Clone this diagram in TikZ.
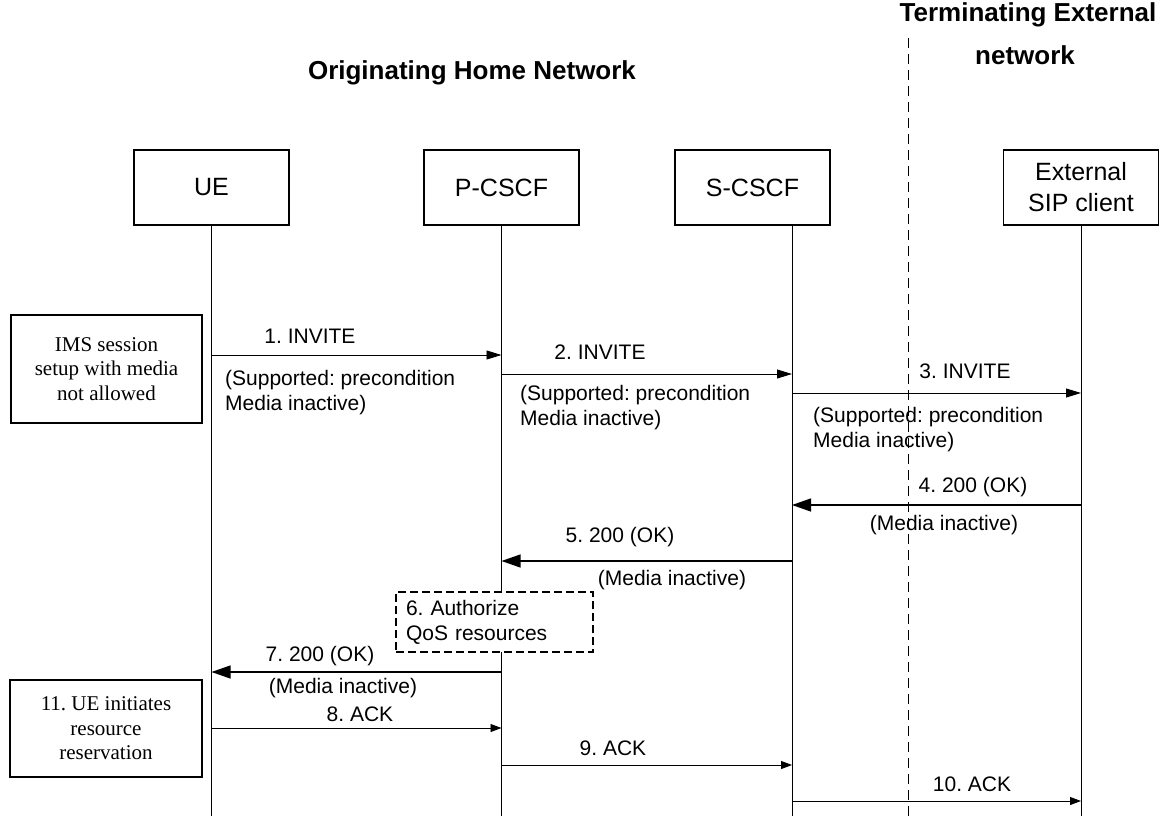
\documentclass[tikz,border=0pt]{standalone}
\usepackage{fontspec}
\setmainfont{Liberation Sans}
\newfontfamily\timesf{Liberation Serif}
\usetikzlibrary{arrows.meta}
\frenchspacing
\begin{document}
\frenchspacing
\begin{tikzpicture}[x=1pt,y=-1pt,
  actor/.style={draw,line width=1.1pt,minimum width=155pt,minimum height=75pt,inner sep=0pt,align=center,font=\frenchspacing\fontsize{25}{31}\selectfont},
  note/.style={draw,line width=1.1pt,inner sep=0pt,align=center,font=\frenchspacing\timesf\fontsize{21}{24.5}\selectfont},
  lbl/.style={inner sep=0pt,font=\frenchspacing\fontsize{21}{25}\selectfont},
  lbll/.style={inner sep=0pt,align=left,anchor=west,font=\frenchspacing\fontsize{21}{25}\selectfont},
  ttl/.style={inner sep=0pt,font=\bfseries\fontsize{26}{32}\selectfont},
  life/.style={line width=1pt},
  inv/.style={line width=0.9pt,-{Triangle[length=15pt,width=9pt]}},
  ok/.style={line width=1.3pt,-{Triangle[length=19pt,width=13pt]}},
  ack/.style={line width=0.9pt,-{Triangle[length=11pt,width=8pt]}},
  divider/.style={line width=1pt,dash pattern=on 10pt off 6pt},
  proc/.style={draw,fill=white,line width=1.3pt,dash pattern=on 8pt off 4pt,text width=177pt,inner xsep=10pt,inner ysep=0pt,minimum height=60pt,align=left,font=\frenchspacing\fontsize{21}{25}\selectfont}
]
\useasboundingbox (0,0) rectangle (1173,816);

% titles
\node[ttl] (orig) at (472,73) {Originating Home Network};
\node[ttl] (term1) at (1028,15) {Terminating External};
\node[ttl] (term2) at (1025,55) {network};

% divider
\coordinate (divTop) at (908,38);
\coordinate (divBot) at (908,816);
\draw[divider] (divTop) -- (divBot);

% actors
\node[actor] (ue) at (211.5,187.5) {UE};
\node[actor] (pcscf) at (501.5,187.5) {P-CSCF};
\node[actor] (scscf) at (752.5,187.5) {S-CSCF};
\node[actor] (ext) at (1081,187.5) {External\\SIP client};
\coordinate (sL) at (792,225);

% lifelines
\draw[life] (ue.south) -- (ue.south |- 0,816);
\draw[life] (pcscf.south) -- (pcscf.south |- 0,816);
\draw[life] (sL) -- (sL |- 0,816);
\draw[life] (ext.south) -- (ext.south |- 0,816);

% side notes
\node[note,minimum width=191pt,minimum height=108pt] (ims) at (106.5,369) {IMS session\\setup with media\\not allowed};
\node[note,minimum width=192pt,minimum height=97pt] (res) at (106,728.5) {11. UE initiates\\resource\\reservation};

% 1. INVITE
\draw[inv] (ue.south |- 0,355) -- (pcscf.south |- 0,355);
\node[lbl] (l1) at (310,336) {1. INVITE};
\node[lbll] (s1) at (225,392.5) {(Supported: precondition\\Media inactive)};

% 2. INVITE
\draw[inv] (pcscf.south |- 0,374) -- (sL |- 0,374);
\node[lbl] (l2) at (600,352) {2. INVITE};
\node[lbll] (s2) at (520,408) {(Supported: precondition\\Media inactive)};

% 3. INVITE
\draw[inv] (sL |- 0,393) -- (ext.south |- 0,393);
\node[lbl] (l3) at (965,371) {3. INVITE};
\node[lbll] (s3) at (813,429.5) {(Supported: precondition\\Media inactive)};

% 4. 200 OK
\draw[ok] (ext.south |- 0,505) -- (sL |- 0,505);
\node[lbl] (l4) at (973,487) {4. 200 (OK)};
\node[lbl] (m4) at (944,525) {(Media inactive)};

% 5. 200 OK
\draw[ok] (sL |- 0,561) -- (pcscf.south |- 0,561);
\node[lbl] (l5) at (620,537) {5. 200 (OK)};
\node[lbl] (m5) at (672,580) {(Media inactive)};

% 6. Authorize
\node[proc] (auth) at (494.5,622) {6. Authorize\\QoS resources};

% 7. 200 OK
\draw[ok] (pcscf.south |- 0,672) -- (ue.south |- 0,672);
\node[lbl] (l7) at (320,656) {7. 200 (OK)};
\node[lbl] (m7) at (343,688) {(Media inactive)};

% 8. ACK
\draw[ack] (ue.south |- 0,728) -- (pcscf.south |- 0,728);
\node[lbl] (l8) at (360,714) {8. ACK};

% 9. ACK
\draw[ack] (pcscf.south |- 0,765) -- (sL |- 0,765);
\node[lbl] (l9) at (613,748) {9. ACK};

% 10. ACK
\draw[ack] (sL |- 0,801) -- (ext.south |- 0,801);
\node[lbl] (l10) at (972,784) {10. ACK};
\end{tikzpicture}
\end{document}
